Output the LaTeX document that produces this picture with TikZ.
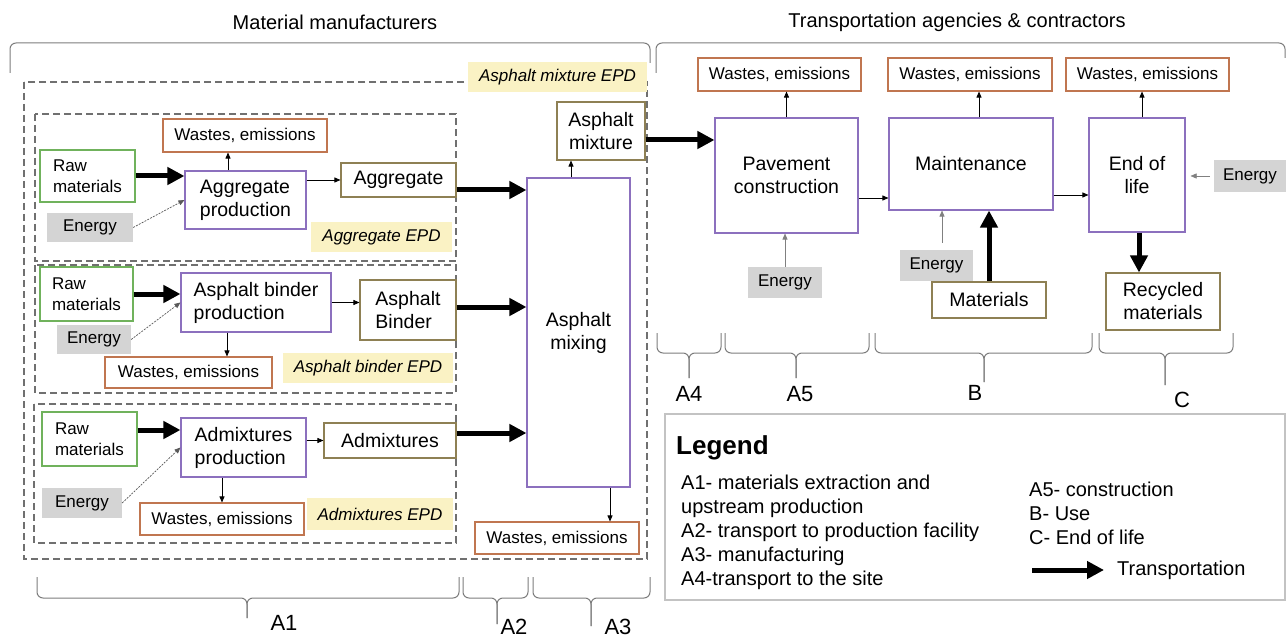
\documentclass[tikz,border=0pt]{standalone}
\usepackage{fontspec}
\setmainfont{Liberation Sans}
\usetikzlibrary{arrows.meta}

\definecolor{rawgreen}{RGB}{112,178,92}
\definecolor{procpurple}{RGB}{140,112,190}
\definecolor{wastebrown}{RGB}{192,118,80}
\definecolor{prodolive}{RGB}{142,128,84}
\definecolor{energygrey}{RGB}{212,212,212}
\definecolor{epdyellow}{RGB}{250,242,196}
\definecolor{grpgrey}{RGB}{112,112,112}
\definecolor{brkgrey}{RGB}{125,125,125}
\definecolor{leggrey}{RGB}{195,195,195}

\tikzset{
  box/.style={draw, line width=1.1pt, inner sep=0pt, align=center,
    font=\fontsize{19.5}{23}\selectfont},
  proc/.style={box, draw=procpurple},
  prod/.style={box, draw=prodolive},
  raw/.style={box, draw=rawgreen, align=left, font=\fontsize{17}{21}\selectfont},
  waste/.style={box, draw=wastebrown, font=\fontsize{17}{21}\selectfont},
  energy/.style={fill=energygrey, inner sep=0pt, font=\fontsize{17}{21}\selectfont},
  epd/.style={fill=epdyellow, inner sep=0pt, font=\itshape\fontsize{17}{21}\selectfont},
  grp/.style={draw=grpgrey, line width=1.3pt, dash pattern=on 7pt off 4pt},
  trans/.style={line width=5pt, -{Triangle[length=17pt,width=17pt]}},
  flow/.style={line width=0.8pt, -{Triangle[length=6pt,width=5pt]}},
  eflow/.style={flow, draw=black!50, line width=0.6pt},
  dflow/.style={flow, draw=black!65, line width=0.7pt, dash pattern=on 2pt off 1.2pt},
  brk/.style={draw=brkgrey, line width=1pt, rounded corners=6pt},
  stage/.style={font=\fontsize{22}{26}\selectfont, inner sep=0pt},
  head/.style={font=\fontsize{20}{24}\selectfont, inner sep=0pt},
  legtext/.style={font=\fontsize{20}{24}\selectfont, inner sep=0pt, align=left, anchor=west}
}

\begin{document}
\begin{tikzpicture}[x=1pt,y=-1pt]
  \path[use as bounding box, fill=white] (0,0) rectangle (1288,639);

  % headers and top brackets
  \node[head] (hmat) at (335,22) {Material manufacturers};
  \node[head] (htra) at (957,22) {Transportation agencies \& contractors};
  \draw[brk] (10,73) -- (10,43) -- (650,43) -- (650,63);
  \draw[brk] (656,73) -- (656,43) -- (1285,43) -- (1285,58);

  % dashed groups
  \draw[grp] (24,82) rectangle (647,559);
  \draw[grp] (35,114) rectangle (456,261);
  \draw[grp] (35,265) rectangle (456,393);
  \draw[grp] (34,404) rectangle (456,543);

  % aggregate
  \node[waste, minimum width=164pt, minimum height=33pt] (w1) at (245,135.5) {Wastes, emissions};
  \node[raw, minimum width=95pt, minimum height=52pt] (raw1) at (87.5,176) {Raw\\materials};
  \node[energy, minimum width=86pt, minimum height=29pt] (en1) at (90,227.5) {Energy};
  \node[proc, align=left, minimum width=121pt, minimum height=58pt] (aggp) at (245.5,200) {Aggregate\\production};
  \node[prod, minimum width=115pt, minimum height=34pt] (agg) at (398.5,180) {Aggregate};
  \node[epd, minimum width=141pt, minimum height=30pt] (epdagg) at (381.5,237) {Aggregate EPD};

  % asphalt binder
  \node[raw, minimum width=93pt, minimum height=54pt] (raw2) at (86.5,294) {Raw\\materials};
  \node[energy, minimum width=74pt, minimum height=29pt] (en2) at (94,339.5) {Energy};
  \node[proc, align=left, minimum width=150pt, minimum height=59pt] (binp) at (256,302.5) {Asphalt binder\\production};
  \node[prod, align=left, minimum width=96pt, minimum height=60pt] (bin) at (408,310) {Asphalt\\Binder};
  \node[waste, minimum width=167pt, minimum height=31pt] (w2) at (188.5,372.5) {Wastes, emissions};
  \node[epd, minimum width=170pt, minimum height=30pt] (epdbin) at (368,368) {Asphalt binder EPD};

  % admixtures
  \node[raw, minimum width=95pt, minimum height=54pt] (raw3) at (89.5,439) {Raw\\materials};
  \node[energy, minimum width=80pt, minimum height=30pt] (en3) at (82,503) {Energy};
  \node[proc, align=left, minimum width=125pt, minimum height=59pt] (admp) at (243.5,447.5) {Admixtures\\production};
  \node[prod, minimum width=132pt, minimum height=35pt] (adm) at (390,440.5) {Admixtures};
  \node[waste, minimum width=164pt, minimum height=32pt] (w3) at (222,519) {Wastes, emissions};
  \node[epd, minimum width=146pt, minimum height=32pt] (epdadm) at (380,514) {Admixtures EPD};

  % mixing
  \node[epd, minimum width=179pt, minimum height=30pt] (epdmix) at (557.5,77) {Asphalt mixture EPD};
  \node[prod, minimum width=88pt, minimum height=58pt] (mixt) at (601,131) {Asphalt\\mixture};
  \node[proc, minimum width=103pt, minimum height=309pt] (mixing) at (578.5,332.5) {Asphalt\\mixing};
  \node[waste, minimum width=164pt, minimum height=32pt] (w7) at (557,538) {Wastes, emissions};

  % construction, use, end of life
  \node[proc, minimum width=143pt, minimum height=115pt] (pave) at (786.5,175.5) {Pavement\\construction};
  \node[proc, minimum width=164pt, minimum height=92pt] (maint) at (971,164) {Maintenance};
  \node[proc, minimum width=96pt, minimum height=114pt] (eol) at (1137,175) {End of\\life};
  \node[waste, minimum width=163pt, minimum height=33pt] (w4) at (779.5,74.5) {Wastes, emissions};
  \node[waste, minimum width=164pt, minimum height=33pt] (w5) at (970,74.5) {Wastes, emissions};
  \node[waste, minimum width=163pt, minimum height=33pt] (w6) at (1147.5,74.5) {Wastes, emissions};
  \node[energy, minimum width=74pt, minimum height=31pt] (en4) at (785,282.5) {Energy};
  \node[energy, minimum width=73pt, minimum height=31pt] (en5) at (936.5,265.5) {Energy};
  \node[prod, minimum width=114pt, minimum height=36pt] (mat) at (989,300) {Materials};
  \node[energy, minimum width=72pt, minimum height=32pt] (en6) at (1250,176) {Energy};
  \node[prod, minimum width=114pt, minimum height=57pt] (rec) at (1163,301.5) {Recycled\\materials};

  % transportation
  \draw[trans] (raw1.east) -- (raw1.east -| aggp.west);
  \draw[trans] (raw2.east) -- (raw2.east -| binp.west);
  \draw[trans] (raw3.east |- 0,430) -- (admp.west |- 0,430);
  \draw[trans] (agg.east |- 0,190) -- (mixing.west |- 0,190);
  \draw[trans] (bin.east |- 0,307) -- (mixing.west |- 0,307);
  \draw[trans] (adm.east |- 0,433) -- (mixing.west |- 0,433);
  \draw[trans] (mixt.east |- 0,140) -- (pave.west |- 0,140);
  \draw[trans] (mat.north) -- (mat.north |- maint.south);
  \draw[trans] (1139,0 |- eol.south) -- (1139,0 |- rec.north);

  % flows
  \draw[flow] (228,0 |- aggp.north) -- (228,0 |- w1.south);
  \draw[flow] (aggp.east |- agg.west) -- (agg.west);
  \draw[flow] (227,0 |- binp.south) -- (227,0 |- w2.north);
  \draw[flow] (binp.east) -- (binp.east -| bin.west);
  \draw[flow] (w3.north |- admp.south) -- (w3.north);
  \draw[flow] (admp.east |- adm.west) -- (adm.west);
  \draw[flow] (571,0 |- mixing.north) -- (571,0 |- mixt.south);
  \draw[flow] (610,0 |- mixing.south) -- (610,0 |- w7.north);
  \draw[flow] (pave.north) -- (pave.north |- w4.south);
  \draw[flow] (979,0 |- maint.north) -- (979,0 |- w5.south);
  \draw[flow] (1142,0 |- eol.north) -- (1142,0 |- w6.south);
  \draw[flow] (pave.east |- 0,198) -- (maint.west |- 0,198);
  \draw[flow] (maint.east |- 0,195) -- (eol.west |- 0,195);

  % energy
  \draw[dflow] (en1.east) -- (aggp.west);
  \draw[dflow] (en2.east) -- (binp.west);
  \draw[dflow] (en3.east) -- (admp.west);
  \draw[eflow] (en4.north) -- (en4.north |- pave.south);
  \draw[eflow, shorten <=7pt] (942,0 |- en5.north) -- (942,0 |- maint.south);
  \draw[eflow, shorten <=4pt, shorten >=5pt] (en6.west) -- (en6.west -| eol.east);

  % stage brackets
  \draw[brk] (37,577) -- (37,598) -- (247,598) -- (247,618);
  \draw[brk] (459,577) -- (459,598) -- (247,598) -- (247,618);
  \draw[brk] (463,577) -- (463,598) -- (497,598) -- (497,624);
  \draw[brk] (528,577) -- (528,598) -- (497,598) -- (497,624);
  \draw[brk] (533,577) -- (533,598) -- (591,598) -- (591,626);
  \draw[brk] (650,577) -- (650,598) -- (591,598) -- (591,626);
  \draw[brk] (657,333) -- (657,353) -- (689,353) -- (689,378);
  \draw[brk] (721,333) -- (721,353) -- (689,353) -- (689,378);
  \draw[brk] (725,333) -- (725,353) -- (796,353) -- (796,378);
  \draw[brk] (869,333) -- (869,353) -- (796,353) -- (796,378);
  \draw[brk] (875,333) -- (875,353) -- (984,353) -- (984,382);
  \draw[brk] (1092,333) -- (1092,353) -- (984,353) -- (984,382);
  \draw[brk] (1099,333) -- (1099,353) -- (1165,353) -- (1165,385);
  \draw[brk] (1233,333) -- (1233,353) -- (1165,353) -- (1165,385);
  \node[stage] (sA1) at (284,623) {A1};
  \node[stage] (sA2) at (514,627) {A2};
  \node[stage] (sA3) at (618,627) {A3};
  \node[stage] (sA4) at (689,394) {A4};
  \node[stage] (sA5) at (800,394) {A5};
  \node[stage] (sB) at (975,393) {B};
  \node[stage] (sC) at (1182,400) {C};

  % legend
  \draw[draw=leggrey, line width=1.2pt] (665,414) rectangle (1285,600);
  \node[font=\bfseries\fontsize{26}{30}\selectfont, inner sep=0pt, anchor=west] (legt) at (676,448) {Legend};
  \node[legtext] (legl) at (681,532) {A1- materials extraction and\\upstream production\\A2- transport to production facility\\A3- manufacturing\\A4-transport to the site};
  \node[legtext] (legr) at (1029,513) {A5- construction\\B- Use\\C- End of life};
  \node[legtext] (legtr) at (1117,570) {Transportation};
  \coordinate (lga) at (1032,570);
  \draw[trans, shorten >=13pt] (lga) -- (legtr.west);
\end{tikzpicture}
\end{document}
